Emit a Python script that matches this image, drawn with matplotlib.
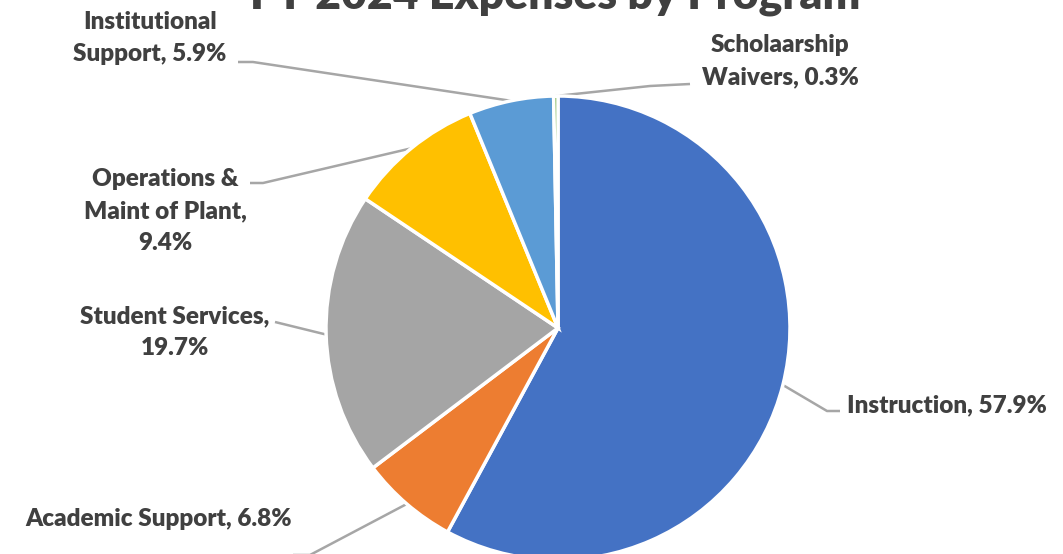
import numpy as np
import matplotlib
matplotlib.use("Agg")
import matplotlib.pyplot as plt

categories = ["Instruction", "Academic Support", "Student Services",
              "Operations &\nMaint of Plant", "Institutional\nSupport", "Scholaarship\nWaivers"]
values = [57.9, 6.8, 19.7, 9.4, 5.9, 0.3]
colors = ["#4472C4", "#ED7D31", "#A5A5A5", "#FFC000", "#5B9BD5", "#70AD47"]
title = "FY 2024 Expenses by Program"

W, H = 1063, 554
fig = plt.figure(figsize=(W / 100, H / 100), dpi=100)
ax = fig.add_axes([0, 0, 1, 1])
ax.set_xlim(0, W)
ax.set_ylim(0, H)
ax.set_aspect("equal")
ax.axis("off")

cx, cy, r = 558, H - 328, 232
wedges, _ = ax.pie(values, colors=colors, startangle=90, counterclock=False,
                   center=(cx, cy), radius=r,
                   wedgeprops=dict(edgecolor="white", linewidth=2.5))
ax.set_xlim(0, W)
ax.set_ylim(0, H)

font = dict(family=["Lato", "DejaVu Sans"], fontweight="heavy", color="#404040", fontsize=17.5)

# label layout (image coords: x, y-from-top)
layout = [
    dict(text=(847, 405), elbow=(827, 411), end=(840, 411), ha="left"),
    dict(text=(159, 519), elbow=(310, 555), end=(293, 555), ha="center"),
    dict(text=(175, 332), elbow=(275, 322), end=(275, 322), ha="center"),
    dict(text=(165, 211), elbow=(263, 183), end=(250, 183), ha="center"),
    dict(text=(150, 38), elbow=(253, 62), end=(238, 62), ha="center"),
    dict(text=(780, 61), elbow=(650, 86), end=(690, 84), ha="center"),
]

for w, cat, val, lay in zip(wedges, categories, values, layout):
    mid = np.deg2rad((w.theta1 + w.theta2) / 2)
    px, py = cx + r * np.cos(mid), cy + r * np.sin(mid)
    ex, ey = lay["elbow"]
    tx, ty = lay["end"]
    ax.plot([px, ex, tx], [py, H - ey, H - ty], color="#A6A6A6", lw=1.8,
            solid_capstyle="butt", zorder=0.5, clip_on=False)
    label = f"{cat}, {val:.1f}%"
    if cat.startswith("Operations") or cat.startswith("Student"):
        label = f"{cat},\n{val:.1f}%"
    ax.text(lay["text"][0], H - lay["text"][1], label, ha=lay["ha"], va="center",
            linespacing=1.55, **font)

ax.text(555, H - 8, title, ha="center", va="baseline",
        family=["Lato", "DejaVu Sans"], fontweight="heavy", color="#404040", fontsize=32)

fig.savefig("out.png", dpi=100)
